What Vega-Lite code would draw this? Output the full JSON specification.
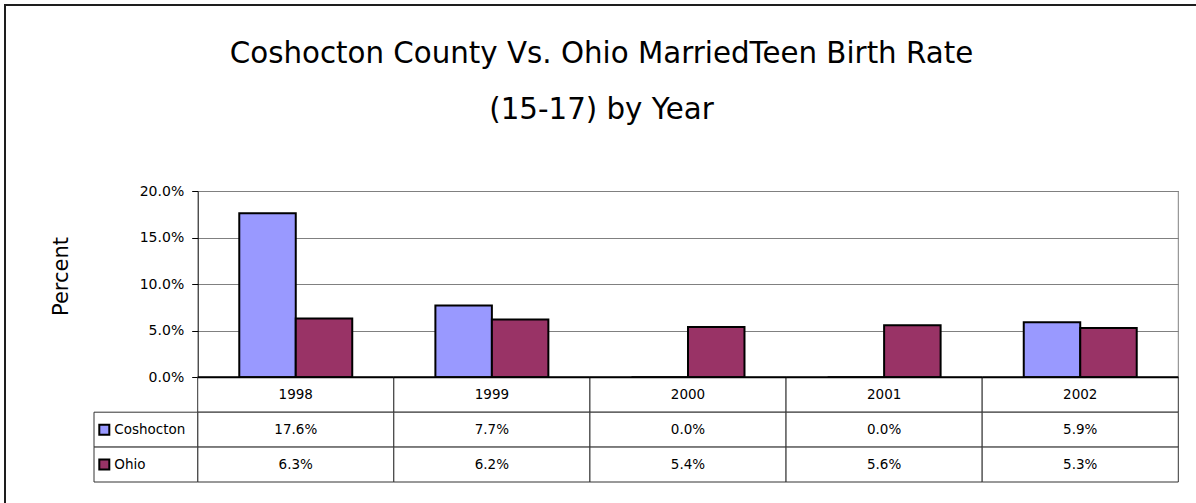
{
  "$schema": "https://vega.github.io/schema/vega-lite/v6.json",
  "width": 1193,
  "height": 500,
  "autosize": {"type": "none"},
  "padding": {"left": 5, "top": 5, "right": -2, "bottom": -2},
  "background": "white",
  "config": {"view": {"stroke": "#1e1e1e", "strokeWidth": 2}, "font": "DejaVu Sans"},
  "title": {
    "text": ["Coshocton County Vs. Ohio MarriedTeen Birth Rate", "(15-17) by Year"],
    "orient": "top",
    "anchor": "middle",
    "frame": "group",
    "offset": -149,
    "baseline": "bottom",
    "lineHeight": 56,
    "font": "DejaVu Sans",
    "fontSize": 29.3,
    "fontWeight": "normal",
    "color": "#000000"
  },
  "datasets": {
    "rates": [
      {"year": "1998", "series": "Coshocton", "value": 0.176},
      {"year": "1999", "series": "Coshocton", "value": 0.077},
      {"year": "2000", "series": "Coshocton", "value": 0.0},
      {"year": "2001", "series": "Coshocton", "value": 0.0},
      {"year": "2002", "series": "Coshocton", "value": 0.059},
      {"year": "1998", "series": "Ohio", "value": 0.063},
      {"year": "1999", "series": "Ohio", "value": 0.062},
      {"year": "2000", "series": "Ohio", "value": 0.054},
      {"year": "2001", "series": "Ohio", "value": 0.056},
      {"year": "2002", "series": "Ohio", "value": 0.053}
    ]
  },
  "data": {"name": "rates"},
  "resolve": {"scale": {"x": "independent", "y": "independent"}},
  "layer": [
    {
      "mark": {"type": "bar", "stroke": "#000000", "strokeWidth": 2},
      "encoding": {
        "x": {"field": "year", "type": "nominal", "axis": null,
              "scale": {"type": "band", "domain": ["1998", "1999", "2000", "2001", "2002"], "range": [192.7, 1173.3], "paddingInner": 0, "paddingOuter": 0}},
        "xOffset": {"field": "series", "type": "nominal",
                    "scale": {"domain": ["Coshocton", "Ohio"], "paddingInner": 0, "paddingOuter": 0.736}},
        "y": {"field": "value", "type": "quantitative",
              "scale": {"type": "linear", "domain": [0, 0.2], "range": [372.3, 186], "nice": false, "zero": true},
              "axis": {
                "values": [0, 0.05, 0.1, 0.15, 0.2],
                "format": ".1%",
                "offset": -192.7,
                "grid": true,
                "gridColor": "#808080",
                "gridWidth": 1,
                "gridOpacity": 1,
                "domainColor": "#000000",
                "domainWidth": 1,
                "tickColor": "#000000",
                "tickSize": 6,
                "labelFont": "DejaVu Sans",
                "labelFontSize": 14,
                "labelColor": "#000000",
                "labelPadding": 8,
                "title": "Percent",
                "titleFont": "DejaVu Sans",
                "titleFontSize": 21,
                "titleFontWeight": "normal",
                "titleColor": "#000000",
                "titleAngle": 270,
                "titleX": -130.7,
                "titleY": 271,
                "titleAlign": "center",
                "titleBaseline": "alphabetic"
              }},
        "color": {"field": "series", "type": "nominal",
                  "scale": {"domain": ["Coshocton", "Ohio"], "range": ["#9999FF", "#993366"]}, "legend": null}
      }
    },
    {
      "transform": [{"filter": "datum.year == '2002' && datum.series == 'Ohio'"}],
      "mark": {"type": "rule", "color": "#808080", "strokeWidth": 1},
      "encoding": {
        "x": {"datum": "2002", "type": "nominal", "bandPosition": 1, "axis": null,
              "scale": {"type": "band", "domain": ["1998", "1999", "2000", "2001", "2002"], "range": [192.7, 1173.3], "paddingInner": 0, "paddingOuter": 0}},
        "y": {"datum": 0, "type": "quantitative", "axis": null,
              "scale": {"type": "linear", "domain": [0, 0.2], "range": [372.3, 186], "nice": false, "zero": true}},
        "y2": {"datum": 0.2}
      }
    },
    {
      "transform": [{"filter": "datum.series == 'Ohio'"}],
      "mark": {"type": "rect", "fill": "#ffffff", "stroke": "#333333", "strokeWidth": 1},
      "encoding": {
        "x": {"field": "year", "type": "nominal", "axis": null,
              "scale": {"type": "band", "domain": ["1998", "1999", "2000", "2001", "2002"], "range": [192.7, 1173.3], "paddingInner": 0, "paddingOuter": 0}},
        "y": {"datum": "Year", "type": "nominal", "axis": null,
              "scale": {"type": "band", "domain": ["Year", "Coshocton", "Ohio"], "range": [372.3, 477], "paddingInner": 0, "paddingOuter": 0}}
      }
    },
    {
      "mark": {"type": "rect", "fill": "#ffffff", "stroke": "#333333", "strokeWidth": 1},
      "encoding": {
        "x": {"field": "year", "type": "nominal", "axis": null,
              "scale": {"type": "band", "domain": ["1998", "1999", "2000", "2001", "2002"], "range": [192.7, 1173.3], "paddingInner": 0, "paddingOuter": 0}},
        "y": {"field": "series", "type": "nominal", "axis": null,
              "scale": {"type": "band", "domain": ["Year", "Coshocton", "Ohio"], "range": [372.3, 477], "paddingInner": 0, "paddingOuter": 0}}
      }
    },
    {
      "transform": [{"filter": "datum.series == 'Ohio'"}],
      "mark": {"type": "rect", "fill": null, "stroke": "#000000", "strokeWidth": 2},
      "encoding": {
        "x": {"field": "year", "type": "nominal", "axis": null,
              "scale": {"type": "band", "domain": ["1998", "1999", "2000", "2001", "2002"], "range": [192.7, 1173.3], "paddingInner": 0, "paddingOuter": 0}},
        "y": {"datum": 0, "type": "quantitative", "axis": null,
              "scale": {"type": "linear", "domain": [0, 0.2], "range": [372.3, 186], "nice": false, "zero": true}},
        "y2": {"datum": 0}
      }
    },
    {
      "mark": {"type": "text", "font": "DejaVu Sans", "fontSize": 13.5, "color": "#000000", "baseline": "middle", "align": "center"},
      "encoding": {
        "x": {"field": "year", "type": "nominal", "axis": null,
              "scale": {"type": "band", "domain": ["1998", "1999", "2000", "2001", "2002"], "range": [192.7, 1173.3], "paddingInner": 0, "paddingOuter": 0}},
        "y": {"field": "series", "type": "nominal", "axis": null,
              "scale": {"type": "band", "domain": ["Year", "Coshocton", "Ohio"], "range": [372.3, 477], "paddingInner": 0, "paddingOuter": 0}},
        "text": {"field": "value", "type": "quantitative", "format": ".1%"}
      }
    },
    {
      "transform": [{"filter": "datum.series == 'Ohio'"}],
      "mark": {"type": "text", "font": "DejaVu Sans", "fontSize": 13.5, "color": "#000000", "baseline": "middle", "align": "center"},
      "encoding": {
        "x": {"field": "year", "type": "nominal", "axis": null,
              "scale": {"type": "band", "domain": ["1998", "1999", "2000", "2001", "2002"], "range": [192.7, 1173.3], "paddingInner": 0, "paddingOuter": 0}},
        "y": {"datum": "Year", "type": "nominal", "axis": null,
              "scale": {"type": "band", "domain": ["Year", "Coshocton", "Ohio"], "range": [372.3, 477], "paddingInner": 0, "paddingOuter": 0}},
        "text": {"field": "year", "type": "nominal"}
      }
    },
    {
      "transform": [{"filter": "datum.year == '1998'"}],
      "mark": {"type": "rect", "fill": "#ffffff", "stroke": "#333333", "strokeWidth": 1},
      "encoding": {
        "x": {"datum": "label", "type": "nominal", "axis": null,
              "scale": {"type": "band", "domain": ["label"], "range": [89, 192.7], "paddingInner": 0, "paddingOuter": 0}},
        "y": {"field": "series", "type": "nominal", "axis": null,
              "scale": {"type": "band", "domain": ["Year", "Coshocton", "Ohio"], "range": [372.3, 477], "paddingInner": 0, "paddingOuter": 0}}
      }
    },
    {
      "transform": [{"filter": "datum.year == '1998'"}],
      "mark": {"type": "point", "shape": "square", "size": 100, "filled": true, "opacity": 1, "stroke": "#000000", "strokeWidth": 2, "xOffset": 10.3},
      "encoding": {
        "x": {"datum": "label", "type": "nominal", "bandPosition": 0, "axis": null,
              "scale": {"type": "band", "domain": ["label"], "range": [89, 192.7], "paddingInner": 0, "paddingOuter": 0}},
        "y": {"field": "series", "type": "nominal", "axis": null,
              "scale": {"type": "band", "domain": ["Year", "Coshocton", "Ohio"], "range": [372.3, 477], "paddingInner": 0, "paddingOuter": 0}},
        "color": {"field": "series", "type": "nominal", "legend": null}
      }
    },
    {
      "transform": [{"filter": "datum.year == '1998'"}],
      "mark": {"type": "text", "font": "DejaVu Sans", "fontSize": 13.5, "color": "#000000", "baseline": "middle", "align": "left", "dx": 20.3},
      "encoding": {
        "x": {"datum": "label", "type": "nominal", "bandPosition": 0, "axis": null,
              "scale": {"type": "band", "domain": ["label"], "range": [89, 192.7], "paddingInner": 0, "paddingOuter": 0}},
        "y": {"field": "series", "type": "nominal", "axis": null,
              "scale": {"type": "band", "domain": ["Year", "Coshocton", "Ohio"], "range": [372.3, 477], "paddingInner": 0, "paddingOuter": 0}},
        "text": {"field": "series", "type": "nominal"}
      }
    }
  ]
}
